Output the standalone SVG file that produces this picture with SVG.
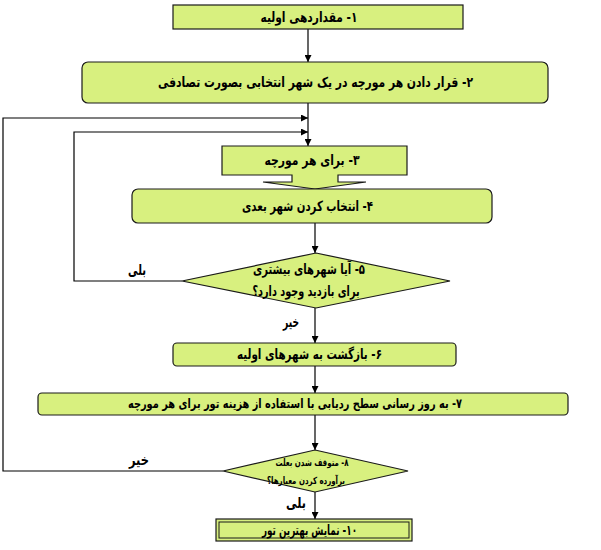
<svg xmlns="http://www.w3.org/2000/svg" width="601" height="550" viewBox="0 0 601 550">
<defs>
<marker id="arr" viewBox="0 0 10 10" refX="10" refY="5" markerWidth="7" markerHeight="7" markerUnits="userSpaceOnUse" orient="auto">
<path d="M0,0 L10,5 L0,10 z" fill="#000"/>
</marker>
<style>
.box{fill:#d8f07f;stroke:#1a1a1a;stroke-width:1.2}
.t{font-family:"DejaVu Sans",sans-serif;font-weight:bold;font-size:14px;fill:#000;text-anchor:middle;direction:rtl;unicode-bidi:embed}
.s{font-size:13px}
.xs{font-size:10px}
.lab{font-family:"DejaVu Sans",sans-serif;font-weight:bold;font-size:15px;fill:#000;text-anchor:middle;direction:rtl}
.c{fill:none;stroke:#000;stroke-width:1.2}
</style>
</defs>
<rect width="601" height="550" fill="#fff"/>
<g id="connectors">
<line class="c" x1="308" y1="29" x2="308" y2="62" marker-end="url(#arr)"/>
<line class="c" x1="308" y1="103" x2="308" y2="146" marker-end="url(#arr)"/>
<polyline class="c" points="223,471 3,471 3,118 308,118" marker-end="url(#arr)"/>
<polyline class="c" points="182,281 74,281 74,132 308,132" marker-end="url(#arr)"/>
<line class="c" x1="315" y1="223" x2="315" y2="253" marker-end="url(#arr)"/>
<line class="c" x1="315" y1="308" x2="315" y2="343" marker-end="url(#arr)"/>
<line class="c" x1="315" y1="366" x2="315" y2="393" marker-end="url(#arr)"/>
<line class="c" x1="315" y1="415" x2="315" y2="450" marker-end="url(#arr)"/>
<line class="c" x1="315" y1="492" x2="315" y2="519" marker-end="url(#arr)"/>
<text class="lab" x="137" y="275" textLength="18" lengthAdjust="spacingAndGlyphs">بلی</text>
<text class="lab" x="291" y="327" textLength="16" lengthAdjust="spacingAndGlyphs">خیر</text>
<text class="lab" x="139" y="465" textLength="20" lengthAdjust="spacingAndGlyphs">خیر</text>
<text class="lab" x="296" y="508" textLength="20" lengthAdjust="spacingAndGlyphs">بلی</text>
</g>
<g id="n1">
<rect class="box" x="173" y="5" width="290" height="24"/>
<text class="t" x="309" y="22" textLength="97" lengthAdjust="spacingAndGlyphs">۱- مقداردهی اولیه</text>
</g>
<g id="n2">
<rect class="box" x="82" y="62" width="466" height="41" rx="6"/>
<text class="t" x="315.5" y="87" textLength="315" lengthAdjust="spacingAndGlyphs">۲- قرار دادن هر مورچه در یک شهر انتخابی بصورت تصادفی</text>
</g>
<g id="n3">
<path class="box" d="M222,146 H407 V175 H338 V182 H366 L315,189 L263,182 H292 V175 H222 Z"/>
<text class="t" x="312" y="165" textLength="95" lengthAdjust="spacingAndGlyphs">۳- برای هر مورچه</text>
</g>
<g id="n4">
<rect class="box" x="132" y="189" width="360" height="34" rx="6"/>
<text class="t" x="307.5" y="211" textLength="131" lengthAdjust="spacingAndGlyphs">۴- انتخاب کردن شهر بعدی</text>
</g>
<g id="n5">
<polygon class="box" points="316,253 450,281 316,308 182,281"/>
<text class="t" x="309" y="274" textLength="112" lengthAdjust="spacingAndGlyphs">۵- آیا شهرهای بیشتری</text>
<text class="t" x="306" y="296" textLength="107" lengthAdjust="spacingAndGlyphs">برای بازدید وجود دارد؟</text>
</g>
<g id="n6">
<rect class="box" x="173" y="343" width="283" height="23" rx="4"/>
<text class="t" x="309.5" y="359" textLength="145" lengthAdjust="spacingAndGlyphs">۶- بازگشت به شهرهای اولیه</text>
</g>
<g id="n7">
<rect class="box" x="38" y="393" width="530" height="22" rx="4"/>
<text class="t s" x="295" y="408" textLength="334" lengthAdjust="spacingAndGlyphs">۷- به روز رسانی سطح ردیابی با استفاده از هزینه تور برای هر مورچه</text>
</g>
<g id="n8">
<polygon class="box" points="315,450 408,471 315,492 223,471"/>
<text class="t xs" x="312" y="466" textLength="73" lengthAdjust="spacingAndGlyphs">۸- متوقف شدن بعلت</text>
<text class="t xs" x="306" y="484" textLength="78" lengthAdjust="spacingAndGlyphs">برآورده کردن معیارها؟</text>
</g>
<g id="n10">
<rect class="box" x="216" y="519" width="196" height="22"/>
<rect x="219" y="522" width="190" height="16" fill="none" stroke="#1a1a1a" stroke-width="1"/>
<text class="t" x="309.5" y="535" textLength="95" lengthAdjust="spacingAndGlyphs">۱۰- نمایش بهترین تور</text>
</g>
</svg>
